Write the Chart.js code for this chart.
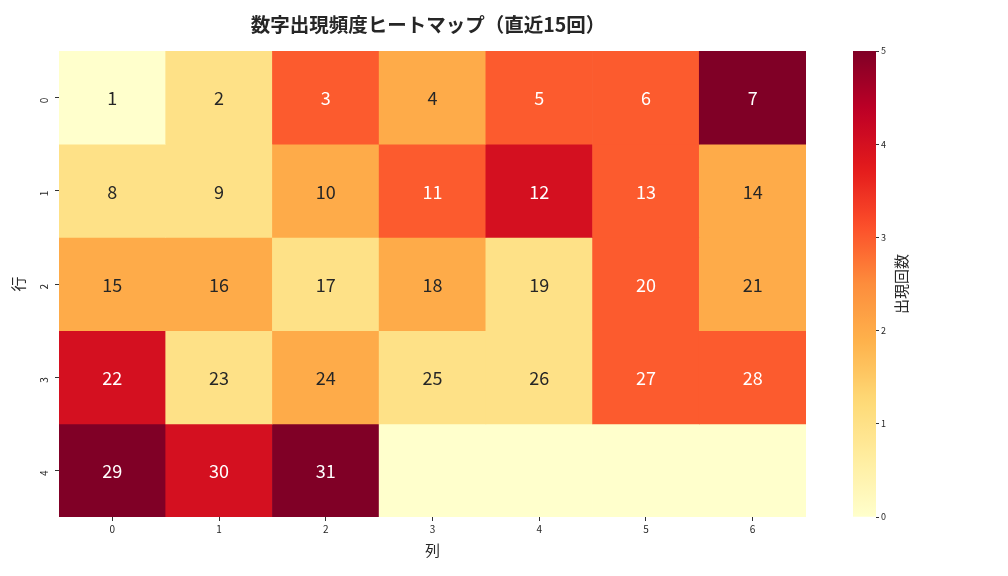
<!DOCTYPE html>
<html>
<head>
<meta charset="utf-8">
<script src="https://cdn.jsdelivr.net/npm/chart.js@4.4.0/dist/chart.umd.min.js"></script>
<style>
  body { margin: 0; background: #fff; }
  #wrap { position: relative; width: 1008px; height: 576px; }
  #wrap canvas { position: absolute; left: 0; top: 0; }
</style>
</head>
<body>
<div id="wrap">
  <canvas id="heat" width="1008" height="576"></canvas>
  <canvas id="cbar" width="1008" height="576"></canvas>
</div>
<script>
// columns / rows of the grid
const colLabels = ['0', '1', '2', '3', '4', '5', '6'];
const rowLabels = ['0', '1', '2', '3', '4'];

// how often each number came up (one array per row)
const freqRow0 = [0, 1, 3, 2, 3, 3, 5];
const freqRow1 = [1, 1, 2, 3, 4, 3, 2];
const freqRow2 = [2, 2, 1, 2, 1, 3, 2];
const freqRow3 = [4, 1, 2, 1, 1, 3, 3];
const freqRow4 = [5, 4, 5, 0, 0, 0, 0];

// the number shown in each cell (null = empty)
const numRow0 = [1, 2, 3, 4, 5, 6, 7];
const numRow1 = [8, 9, 10, 11, 12, 13, 14];
const numRow2 = [15, 16, 17, 18, 19, 20, 21];
const numRow3 = [22, 23, 24, 25, 26, 27, 28];
const numRow4 = [29, 30, 31, null, null, null, null];

const cbTicks = [0, 1, 2, 3, 4, 5];

const freqs = [freqRow0, freqRow1, freqRow2, freqRow3, freqRow4];
const nums = [numRow0, numRow1, numRow2, numRow3, numRow4];
const vmin = 0, vmax = 5;

// YlOrRd
const ylorrd = ['#ffffcc', '#ffeda0', '#fed976', '#feb24c', '#fd8d3c', '#fc4e2a', '#e31a1c', '#bd0026', '#800026'];
function hexRgb(h) {
  return [parseInt(h.slice(1, 3), 16), parseInt(h.slice(3, 5), 16), parseInt(h.slice(5, 7), 16)];
}
function cmap(v) {
  let t = (v - vmin) / (vmax - vmin);
  t = Math.max(0, Math.min(1, t)) * (ylorrd.length - 1);
  const i = Math.min(Math.floor(t), ylorrd.length - 2);
  const f = t - i;
  const a = hexRgb(ylorrd[i]), b = hexRgb(ylorrd[i + 1]);
  return a.map((x, k) => Math.round(x + (b[k] - x) * f));
}
function rgbStr(c) { return 'rgb(' + c.join(',') + ')'; }
function lum(c) {
  const l = c.map(x => { x = x / 255; return x <= 0.03928 ? x / 12.92 : Math.pow((x + 0.055) / 1.055, 2.4); });
  return 0.2126 * l[0] + 0.7152 * l[1] + 0.0722 * l[2];
}

const FONT = "'Noto Sans CJK JP', 'Noto Sans', sans-serif";
const TXT = '#262626';

const cellText = {
  id: 'cellText',
  afterDatasetsDraw(chart) {
    const ctx = chart.ctx;
    ctx.save();
    ctx.font = '18px ' + FONT;
    ctx.textAlign = 'center';
    ctx.textBaseline = 'middle';
    chart.data.datasets.forEach((ds, r) => {
      chart.getDatasetMeta(r).data.forEach((el, c) => {
        const n = nums[r][c];
        if (n == null) return;
        const bg = cmap(freqs[r][c]);
        ctx.fillStyle = lum(bg) > 0.408 ? TXT : '#ffffff';
        ctx.fillText(String(n), el.x, (el.y + el.base) / 2 + 1);
      });
    });
    ctx.restore();
  }
};

// title centred over the heatmap+colourbar like the figure suptitle
const topTitle = {
  id: 'topTitle',
  afterDraw(chart) {
    const ctx = chart.ctx;
    ctx.save();
    ctx.font = 'bold 19.5px ' + FONT;
    ctx.fillStyle = TXT;
    ctx.textAlign = 'center';
    ctx.textBaseline = 'middle';
    ctx.fillText('数字出現頻度ヒートマップ（直近15回）', 428, 25);
    ctx.restore();
  }
};

new Chart(document.getElementById('heat'), {
  type: 'bar',
  data: {
    labels: colLabels,
    datasets: rowLabels.map((r, i) => ({
      label: r,
      data: colLabels.map(() => 1),
      backgroundColor: freqs[i].map(v => rgbStr(cmap(v))),
      borderWidth: 0,
      barPercentage: 1,
      categoryPercentage: 1
    }))
  },
  options: {
    responsive: false,
    animation: false,
    layout: { padding: { left: 0, right: 202, top: 51, bottom: 0 } },
    plugins: {
      legend: { display: false },
      tooltip: { enabled: false },
      title: { display: false }
    },
    scales: {
      x: {
        stacked: true,
        grid: { display: true, drawOnChartArea: false, offset: false, tickLength: 4, color: '#333' },
        border: { display: false },
        ticks: { color: TXT, font: { family: FONT, size: 10 }, padding: 2, maxRotation: 0 },
        title: { display: true, text: '列', color: TXT, font: { family: FONT, size: 15 }, padding: { top: 0, bottom: 17 } },
        afterFit(s) { s.height = 59; }
      },
      y: {
        stacked: true,
        reverse: true,
        min: 0,
        max: rowLabels.length,
        afterBuildTicks(s) { s.ticks = rowLabels.map((_, i) => ({ value: i + 0.5 })); },
        grid: { display: true, drawOnChartArea: false, tickLength: 4, color: '#333' },
        border: { display: false },
        ticks: {
          color: TXT, font: { family: FONT, size: 10 }, padding: 11,
          minRotation: 90, maxRotation: 90,
          callback: (v, i) => rowLabels[i]
        },
        title: { display: true, text: '行', color: TXT, font: { family: FONT, size: 15 }, padding: { top: 9, bottom: 0 } },
        afterFit(s) { s.width = 59; }
      }
    }
  },
  plugins: [cellText, topTitle]
});

// colour bar
const cbLabel = {
  id: 'cbLabel',
  afterDraw(chart) {
    const a = chart.chartArea;
    const ctx = chart.ctx;
    ctx.save();
    ctx.translate(901, (a.top + a.bottom) / 2);
    ctx.rotate(-Math.PI / 2);
    ctx.font = '15px ' + FONT;
    ctx.fillStyle = TXT;
    ctx.textAlign = 'center';
    ctx.textBaseline = 'middle';
    ctx.fillText('出現回数', 0, 0);
    ctx.restore();
  }
};

new Chart(document.getElementById('cbar'), {
  type: 'bar',
  data: {
    labels: [''],
    datasets: [{
      data: [vmax],
      borderWidth: 0,
      barPercentage: 1,
      categoryPercentage: 1,
      backgroundColor(ctx) {
        const a = ctx.chart.chartArea;
        if (!a) return ylorrd[0];
        const g = ctx.chart.ctx.createLinearGradient(0, a.bottom, 0, a.top);
        for (let k = 0; k <= 50; k++) {
          const v = vmin + (vmax - vmin) * k / 50;
          g.addColorStop(k / 50, rgbStr(cmap(v)));
        }
        return g;
      }
    }]
  },
  options: {
    responsive: false,
    animation: false,
    layout: { padding: { left: 853, right: 112, top: 51, bottom: 59 } },
    plugins: { legend: { display: false }, tooltip: { enabled: false }, title: { display: false } },
    scales: {
      x: { display: false },
      y: {
        position: 'right',
        min: vmin,
        max: vmax,
        afterBuildTicks(s) { s.ticks = cbTicks.map(v => ({ value: v })); },
        grid: { display: true, drawOnChartArea: false, tickLength: 3, color: '#333' },
        border: { display: false },
        ticks: { color: TXT, font: { family: FONT, size: 9 }, padding: 2 },
        afterFit(s) { s.width = 20; }
      }
    }
  },
  plugins: [cbLabel]
});
</script>
</body>
</html>
